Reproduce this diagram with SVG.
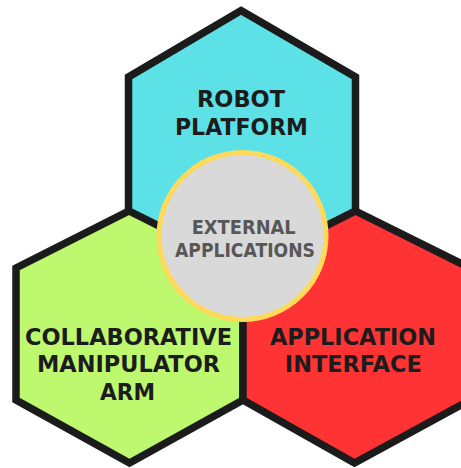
<svg xmlns="http://www.w3.org/2000/svg" width="461" height="468" viewBox="0 0 461 468">
  <style>
    .hex { stroke: #1b1b1b; stroke-width: 7.5; stroke-linejoin: miter; }
    .label { font-family: "DejaVu Sans", "Liberation Sans", sans-serif; font-weight: bold; font-size: 23.5px; fill: #1c1c1c; text-anchor: middle; }
    .hub-label { font-family: "DejaVu Sans", "Liberation Sans", sans-serif; font-weight: bold; font-size: 19.5px; fill: #575757; text-anchor: middle; }
  </style>
  <rect width="461" height="468" fill="#ffffff"/>

  <g id="robot-platform">
    <polygon class="hex" fill="#5ce1e6" points="241,10.5 355.5,77 355.5,211 243,268 128.5,211 128.5,77"/>
    <text class="label" x="241" y="107" textLength="88" lengthAdjust="spacingAndGlyphs">ROBOT</text>
    <text class="label" x="241.5" y="135" textLength="133" lengthAdjust="spacingAndGlyphs">PLATFORM</text>
  </g>

  <g id="collaborative-arm">
    <polygon class="hex" fill="#bdf86f" points="129,211 243,268 243,400 129.5,463 16,400 16,268"/>
    <text class="label" x="128.5" y="345" textLength="207" lengthAdjust="spacingAndGlyphs">COLLABORATIVE</text>
    <text class="label" x="128.5" y="372" textLength="183" lengthAdjust="spacingAndGlyphs">MANIPULATOR</text>
    <text class="label" x="127.5" y="400" textLength="55" lengthAdjust="spacingAndGlyphs">ARM</text>
  </g>

  <g id="application-interface">
    <polygon class="hex" fill="#ff3333" points="355.5,211 470,268 470,400 354.5,463 243,400 243,268"/>
    <text class="label" x="353" y="345" textLength="166" lengthAdjust="spacingAndGlyphs">APPLICATION</text>
    <text class="label" x="353.3" y="372" textLength="137" lengthAdjust="spacingAndGlyphs">INTERFACE</text>
  </g>

  <g id="external-applications">
    <circle cx="242.5" cy="236" r="83.5" fill="#d9d9d9" stroke="#ffd95a" stroke-width="5"/>
    <text class="hub-label" x="243.7" y="234" textLength="104" lengthAdjust="spacingAndGlyphs">EXTERNAL</text>
    <text class="hub-label" x="245" y="257" textLength="140" lengthAdjust="spacingAndGlyphs">APPLICATIONS</text>
  </g>

  <g id="connectors"/>
</svg>
